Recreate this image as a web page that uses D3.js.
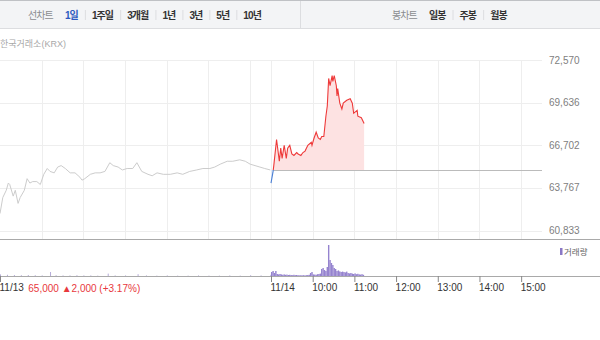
<!DOCTYPE html>
<html>
<head>
<meta charset="utf-8">
<script src="https://cdn.jsdelivr.net/npm/d3@7/dist/d3.min.js"></script>
<style>
  body { margin: 0; background: #fff; }
  svg { display: block; font-family: "Liberation Sans", Arial, "Noto Sans CJK KR", sans-serif; }
</style>
</head>
<body>
<div id="chart"></div>
<script>
// minutes from 09:00, price (11/13 session)
var prevDayPrice = [
  [0,62000],[4,63100],[9,63600],[12,64100],[14,64000],[19,63200],[22,63600],[26,62700],
  [29,63100],[35,63600],[39,64400],[43,64100],[47,64200],[53,64200],[58,64000],[63,64700],
  [68,65100],[72,64900],[78,64800],[83,65200],[88,65300],[94,65100],[101,64800],[108,64800],
  [115,64500],[118,64300],[122,64400],[130,64700],[137,64800],[144,64800],[151,64900],[158,65500],
  [163,65300],[170,65200],[176,65000],[183,65100],[191,65100],[197,65500],[204,64900],[213,64700],
  [219,64600],[226,64800],[235,64700],[245,64700],[255,64800],[263,64700],[273,64900],[283,65000],
  [292,65100],[302,65100],[309,65200],[317,65400],[327,65600],[335,65600],[345,65700],[353,65600],
  [360,65400],[367,65300],[374,65200],[381,65100],[389,65000]
];

// minutes from 09:00, price (11/14 session)
var todayPrice = [
  [0,64100],[3,64900],[4,65300],[8,67100],[12,65600],[14,66500],[16,65800],[19,66700],
  [22,65800],[24,66500],[27,66700],[30,66100],[33,66000],[37,66200],[39,66100],[43,66000],
  [46,66200],[49,66300],[53,66700],[58,66900],[59,66700],[62,67200],[65,67600],[68,67200],
  [71,67100],[73,67300],[76,67300],[79,68700],[81,69400],[83,71300],[85,70800],[88,71500],
  [89,71100],[91,71500],[94,70800],[95,70100],[96,70600],[99,69600],[102,69200],[104,69600],
  [109,69800],[114,69900],[117,69600],[119,68900],[124,69100],[125,68700],[130,68600],[134,68200]
];

var prevDayVolume = [
  [0,80000],[10,60000],[20,50000],[30,40000],[40,50000],[50,40000],[60,30000],[72,200000],
  [80,40000],[90,30000],[100,30000],[110,40000],[120,30000],[130,30000],[140,20000],[155,120000],
  [165,30000],[180,30000],[198,90000],[210,30000],[225,20000],[240,30000],[255,20000],[270,20000],
  [285,30000],[300,20000],[315,20000],[330,30000],[345,20000],[360,40000],[375,30000],[389,60000]
];

var todayVolume = [
  [0,200000],[2,250000],[4,150000],[6,250000],[8,100000],[10,80000],[12,100000],[14,80000],
  [16,60000],[18,80000],[20,60000],[22,70000],[24,50000],[26,60000],[28,50000],[30,40000],
  [32,60000],[34,40000],[36,50000],[38,40000],[40,30000],[42,40000],[44,30000],[46,40000],
  [48,30000],[50,40000],[52,50000],[54,60000],[56,150000],[58,200000],[60,80000],[62,70000],
  [64,60000],[66,90000],[68,100000],[70,120000],[72,350000],[74,400000],[76,300000],[78,250000],
  [80,450000],[82,1550000],[84,800000],[86,650000],[88,550000],[90,400000],[92,350000],[94,250000],
  [96,280000],[98,230000],[100,200000],[102,220000],[104,200000],[106,180000],[108,220000],[110,150000],
  [112,130000],[114,150000],[116,120000],[118,100000],[120,130000],[122,90000],[124,110000],[126,80000],
  [128,70000],[130,90000],[132,60000]
];

var prevClose = 65000;
var priceTicks = [60833, 63767, 66702, 69636, 72570];
var gridMinutes = [60, 120, 180, 240, 300, 360, 390, 450, 510, 570, 630, 690, 750];
var timeTicks = [0, 390, 450, 510, 570, 630, 690, 750];
var timeLabels = ["11/13", "11/14", "10:00", "11:00", "12:00", "13:00", "14:00", "15:00"];
var summaryText = "65,000 \u25B22,000 (+3.17%)";

var lineTabs = ["1일", "1주일", "3개월", "1년", "3년", "5년", "10년"];
var candleTabs = ["일봉", "주봉", "월봉"];

var width = 600, height = 340;
var session = 390;

var svg = d3.select('#chart').append('svg')
  .attr('width', width)
  .attr('height', height);

var x = d3.scaleLinear().domain([0, session * 2]).range([0, 542]);
var y = d3.scaleLinear().domain([60833, 72570]).range([230.5, 60]);
var yv = d3.scaleLinear().domain([0, 1600000]).range([276, 244]);

// toolbar
svg.append('rect').attr('x', 0).attr('y', 0).attr('width', width).attr('height', 28)
  .attr('fill', '#f3f4f6');
svg.append('line').attr('x1', 0).attr('x2', width).attr('y1', 0.5).attr('y2', 0.5).attr('stroke', '#bfc1c5');
svg.append('line').attr('x1', 0).attr('x2', width).attr('y1', 28.5).attr('y2', 28.5).attr('stroke', '#dcdde0');
svg.append('line').attr('x1', 300.5).attr('x2', 300.5).attr('y1', 1).attr('y2', 28).attr('stroke', '#dcdde0');

function drawTabs(title, tabs, startX) {
  var g = svg.append('g').attr('font-size', 10).attr('letter-spacing', '-0.9px');
  var t = g.append('text').attr('x', startX).attr('y', 18.5).attr('fill', '#8a8c90').text(title);
  var cx = startX + t.node().getComputedTextLength() + 12;
  tabs.forEach(function(label, i) {
    if (i > 0) {
      g.append('line').attr('x1', cx + 0.5).attr('x2', cx + 0.5).attr('y1', 10).attr('y2', 20)
        .attr('stroke', '#dcdde0');
      cx += 7;
    }
    var tx = g.append('text').attr('x', cx).attr('y', 18.5)
      .attr('font-weight', 'bold')
      .attr('fill', (title === '선차트' && i === 0) ? '#2d5bc0' : '#333')
      .text(label);
    cx += tx.node().getComputedTextLength() + 7;
  });
}
drawTabs('선차트', lineTabs, 28);
drawTabs('봉차트', candleTabs, 392);

svg.append('text').attr('x', 0).attr('y', 47).attr('font-size', 9).attr('fill', '#a8a8a8')
  .text('한국거래소(KRX)');

// grid
svg.append('g').selectAll('line')
  .data(priceTicks)
  .enter()
  .append('line')
  .attr('x1', 0).attr('x2', 542)
  .attr('y1', function(d) { return Math.round(y(d)) + 0.5; })
  .attr('y2', function(d) { return Math.round(y(d)) + 0.5; })
  .attr('stroke', '#eeeeee');

svg.append('g').selectAll('line')
  .data(gridMinutes)
  .enter()
  .append('line')
  .attr('x1', function(d) { return Math.round(x(d)) + 0.5; })
  .attr('x2', function(d) { return Math.round(x(d)) + 0.5; })
  .attr('y1', 60).attr('y2', 239)
  .attr('stroke', '#eeeeee');

svg.append('g').selectAll('text')
  .data(priceTicks)
  .enter()
  .append('text')
  .attr('x', 549)
  .attr('y', function(d) { return y(d) + 3.5; })
  .attr('font-size', 10)
  .attr('fill', '#808080')
  .text(function(d) { return d3.format(',')(d); });

// previous day line
svg.append('path')
  .datum(prevDayPrice)
  .attr('fill', 'none')
  .attr('stroke', '#cccccc')
  .attr('stroke-width', 1)
  .attr('d', d3.line().x(function(d) { return x(d[0]); }).y(function(d) { return y(d[1]); }));

// reference line at previous close
var yRef = y(prevClose);
svg.append('line')
  .attr('x1', x(session)).attr('x2', 542)
  .attr('y1', Math.round(yRef) + 0.5).attr('y2', Math.round(yRef) + 0.5)
  .attr('stroke', '#bbbbbb');

var defs = svg.append('defs');
defs.append('clipPath').attr('id', 'clipUp').append('rect')
  .attr('x', 0).attr('y', 0).attr('width', width).attr('height', yRef);
defs.append('clipPath').attr('id', 'clipDown').append('rect')
  .attr('x', 0).attr('y', yRef).attr('width', width).attr('height', 239 - yRef);

var tx = function(d) { return x(session + d[0]); };
var area = d3.area().x(tx).y0(yRef).y1(function(d) { return y(d[1]); });
var line = d3.line().x(tx).y(function(d) { return y(d[1]); });

svg.append('path').datum(todayPrice).attr('clip-path', 'url(#clipUp)')
  .attr('fill', '#fde2e2').attr('d', area);
svg.append('path').datum(todayPrice).attr('clip-path', 'url(#clipDown)')
  .attr('fill', '#dfe8f7').attr('d', area);
svg.append('path').datum(todayPrice).attr('clip-path', 'url(#clipUp)')
  .attr('fill', 'none').attr('stroke', '#ee3a3a').attr('stroke-width', 1.1).attr('d', line);
svg.append('path').datum(todayPrice).attr('clip-path', 'url(#clipDown)')
  .attr('fill', 'none').attr('stroke', '#4a7fd4').attr('stroke-width', 1.1).attr('d', line);

// separators
svg.append('line').attr('x1', 0).attr('x2', width).attr('y1', 239.5).attr('y2', 239.5).attr('stroke', '#a9a9a9');

// volume
svg.append('g').selectAll('rect')
  .data(prevDayVolume)
  .enter()
  .append('rect')
  .attr('x', function(d) { return x(d[0]); })
  .attr('width', 1)
  .attr('y', function(d) { return yv(d[1]); })
  .attr('height', function(d) { return 276 - yv(d[1]); })
  .attr('fill', '#b5abd8');

svg.append('g').selectAll('rect')
  .data(todayVolume)
  .enter()
  .append('rect')
  .attr('x', function(d) { return x(session + d[0]); })
  .attr('width', x(2) - x(0))
  .attr('y', function(d) { return yv(d[1]); })
  .attr('height', function(d) { return 276 - yv(d[1]); })
  .attr('fill', '#9583cf');

svg.append('line').attr('x1', 0).attr('x2', width).attr('y1', 276.5).attr('y2', 276.5).attr('stroke', '#a9a9a9');

svg.append('rect').attr('x', 560).attr('y', 248).attr('width', 2.5).attr('height', 7).attr('fill', '#8a78c6');
svg.append('text').attr('x', 564).attr('y', 254.5).attr('font-size', 8.5).attr('fill', '#666').text('거래량');

// time axis
var axis = svg.append('g')
  .attr('transform', 'translate(0,276)')
  .call(d3.axisBottom(x)
    .tickValues(timeTicks)
    .tickFormat(function(d, i) { return timeLabels[i]; })
    .tickSize(6));
axis.select('.domain').remove();
axis.selectAll('.tick line').attr('stroke', '#888');
axis.selectAll('.tick text')
  .attr('text-anchor', 'start')
  .attr('x', -1)
  .attr('dy', '0.6em')
  .attr('font-size', 10)
  .attr('font-family', '"Liberation Sans", Arial, sans-serif')
  .attr('fill', '#333');

var firstLabel = axis.select('.tick text').node();
svg.append('text')
  .attr('x', firstLabel.getComputedTextLength() + 4)
  .attr('y', 292)
  .attr('font-size', 10)
  .attr('fill', '#e8383d')
  .text(summaryText);
</script>
</body>
</html>
